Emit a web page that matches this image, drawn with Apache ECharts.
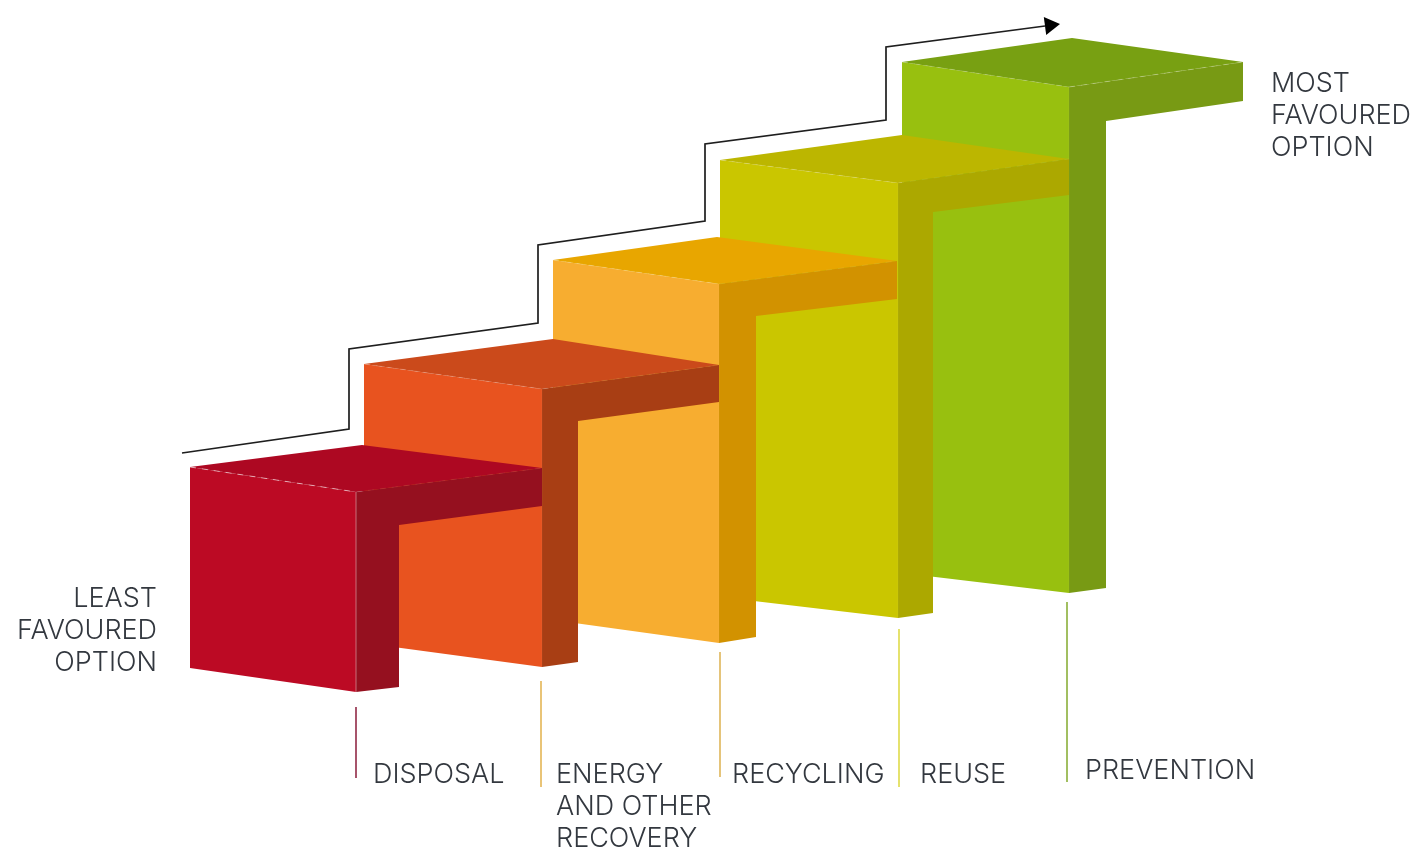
<!DOCTYPE html>
<html><head><meta charset="utf-8">
<style>html,body{margin:0;padding:0;background:#fff}#c{width:1416px;height:850px}</style>
<script src="https://cdn.jsdelivr.net/npm/echarts@6/dist/echarts.min.js"></script>
</head><body><div id="c"></div>
<script>
// Steps of the hierarchy (x = distance along the staircase, h = height)
const categories   = ['DISPOSAL','ENERGY\nAND OTHER\nRECOVERY','RECYCLING','REUSE','PREVENTION'];
const frontLeftX   = [190,364,553,720,902];
const frontRightX  = [356,542,719,898,1069];
const frontTopLeft = [383,486,590,690,788];
const frontTopRight= [358,461,566,667,763];
const frontBaseLeft= [182,207,230,253,277];
const frontBaseRight=[158,183,207,232,257];
const backX        = [362,553,717,902,1072];
const backH        = [405,511,613,715,812];
const armEndX      = [542,719,897,1069,1243];
const armTopH      = [382,485,589,691,788];
const armLowH      = [344,448,551,655,749];
const innerX       = [399,578,756,933,1106];
const innerH       = [325,429,534,638,729];
const sideBaseH    = [163,188,213,237,262];
const frontColors  = ['#BC0A24','#E8531F','#F7AD30','#CAC600','#98C00F'];
const topColors    = ['#AD0822','#CB4A1B','#E8A600','#BCB600','#78A012'];
const sideColors   = ['#95101F','#A83E14','#D29200','#ACA800','#789A14'];
const leaderX      = [356,541,720,899,1067];
const leaderTopH   = [143,169,198,221,248];
const leaderBottomH= [72,63,73,63,68];
const leaderColors = ['#8A1B3A','#E2B04A','#DDB04E','#DCD83E','#83AA2C'];
const labelX       = [373,556,732,920,1085];
const labelH       = [75,75,75,75,79];
const arrowX       = [182,349,349,538,538,705,705,886,886,1045];
const arrowH       = [397,421,501,527,605,629,706,730,803,824];
const arrowTip     = [1060,826];
const endLabels    = ['LEAST\nFAVOURED\nOPTION','MOST\nFAVOURED\nOPTION'];
const endLabelX    = [157,1271];
const endLabelH    = [267,782];

const LABEL_FONT = {fontFamily:'Inter',fontSize:27,fontWeight:300,lineHeight:32,fill:'#33383F'};

function stepItem(params, api){
  const i = categories.length-1-params.dataIndex;   // back steps first
  const c = (x,h)=>api.coord([x,h]);
  const front=[c(frontLeftX[i],frontTopLeft[i]),c(frontRightX[i],frontTopRight[i]),c(frontRightX[i],frontBaseRight[i]),c(frontLeftX[i],frontBaseLeft[i])];
  const top=[c(frontLeftX[i],frontTopLeft[i]),c(backX[i],backH[i]),c(armEndX[i],armTopH[i]),c(frontRightX[i],frontTopRight[i])];
  const side=[c(frontRightX[i],frontTopRight[i]),c(armEndX[i],armTopH[i]),c(armEndX[i],armLowH[i]),c(innerX[i],innerH[i]),c(innerX[i],sideBaseH[i]),c(frontRightX[i],frontBaseRight[i])];
  const edgeAlpha = i===0?0.55:0.18;
  return {type:'group',children:[
    {type:'polygon',shape:{points:front},style:{fill:frontColors[i]}},
    {type:'polygon',shape:{points:top},style:{fill:topColors[i]}},
    {type:'polygon',shape:{points:side},style:{fill:sideColors[i]}},
    {type:'polyline',shape:{points:[front[0],front[1]]},style:{fill:null,stroke:'rgba(255,255,255,'+edgeAlpha+')',lineWidth:1,lineDash:[6,6]}},
    {type:'polyline',shape:{points:[front[1],side[1]]},style:{fill:null,stroke:'rgba(255,255,255,'+(i===4?0.25:0.08)+')',lineWidth:1,lineDash:[6,6]}},
    {type:'polyline',shape:{points:[front[1],front[2]]},style:{fill:null,stroke:'rgba(255,255,255,'+(i===0?0.4:0.05)+')',lineWidth:1}}
  ]};
}
function leaderItem(params, api){
  const i=params.dataIndex;
  return {type:'group',children:[
    {type:'line',shape:{x1:api.coord([leaderX[i],0])[0],y1:api.coord([0,leaderTopH[i]])[1],x2:api.coord([leaderX[i],0])[0],y2:api.coord([0,leaderBottomH[i]])[1]},style:{stroke:leaderColors[i],lineWidth:1.5}},
    {type:'text',x:api.coord([labelX[i],0])[0],y:api.coord([0,labelH[i]])[1],style:Object.assign({text:categories[i],textAlign:'left',verticalAlign:'top'},LABEL_FONT,{y:-16})}
  ]};
}
function arrowItem(params, api){
  const pts=arrowX.map((x,k)=>api.coord([x,arrowH[k]]));
  const tip=api.coord(arrowTip), base=pts[pts.length-1];
  const dx=tip[0]-base[0],dy=tip[1]-base[1],n=Math.hypot(dx,dy),ux=dx/n,uy=dy/n,w=9;
  return {type:'group',children:[
    {type:'polyline',shape:{points:pts},style:{fill:null,stroke:'#1E1E1E',lineWidth:1.7}},
    {type:'polygon',shape:{points:[tip,[base[0]-uy*w,base[1]+ux*w],[base[0]+uy*w,base[1]-ux*w]]},style:{fill:'#000'}}
  ]};
}
function endItem(params, api){
  const i=params.dataIndex;
  return {type:'text',x:api.coord([endLabelX[i],0])[0],y:api.coord([0,endLabelH[i]])[1],
    style:Object.assign({text:endLabels[i],textAlign:i===0?'right':'left',verticalAlign:'top'},LABEL_FONT)};
}
const chart=echarts.init(document.getElementById('c'),null,{renderer:'canvas'});
chart.setOption({
  animation:false,backgroundColor:'#fff',
  grid:{left:0,right:0,top:0,bottom:0},
  xAxis:{type:'value',min:0,max:1416,show:false},
  yAxis:{type:'value',min:0,max:850,show:false},
  series:[
    {type:'custom',name:'Steps',data:categories.map((_,k)=>k),renderItem:stepItem,clip:false,z:2},
    {type:'custom',name:'Leaders',data:categories.map((_,k)=>k),renderItem:leaderItem,clip:false,z:3},
    {type:'custom',name:'Direction',data:[0],renderItem:arrowItem,clip:false,z:3},
    {type:'custom',name:'Ends',data:[0,1],renderItem:endItem,clip:false,z:3}
  ]
});
</script></body></html>
